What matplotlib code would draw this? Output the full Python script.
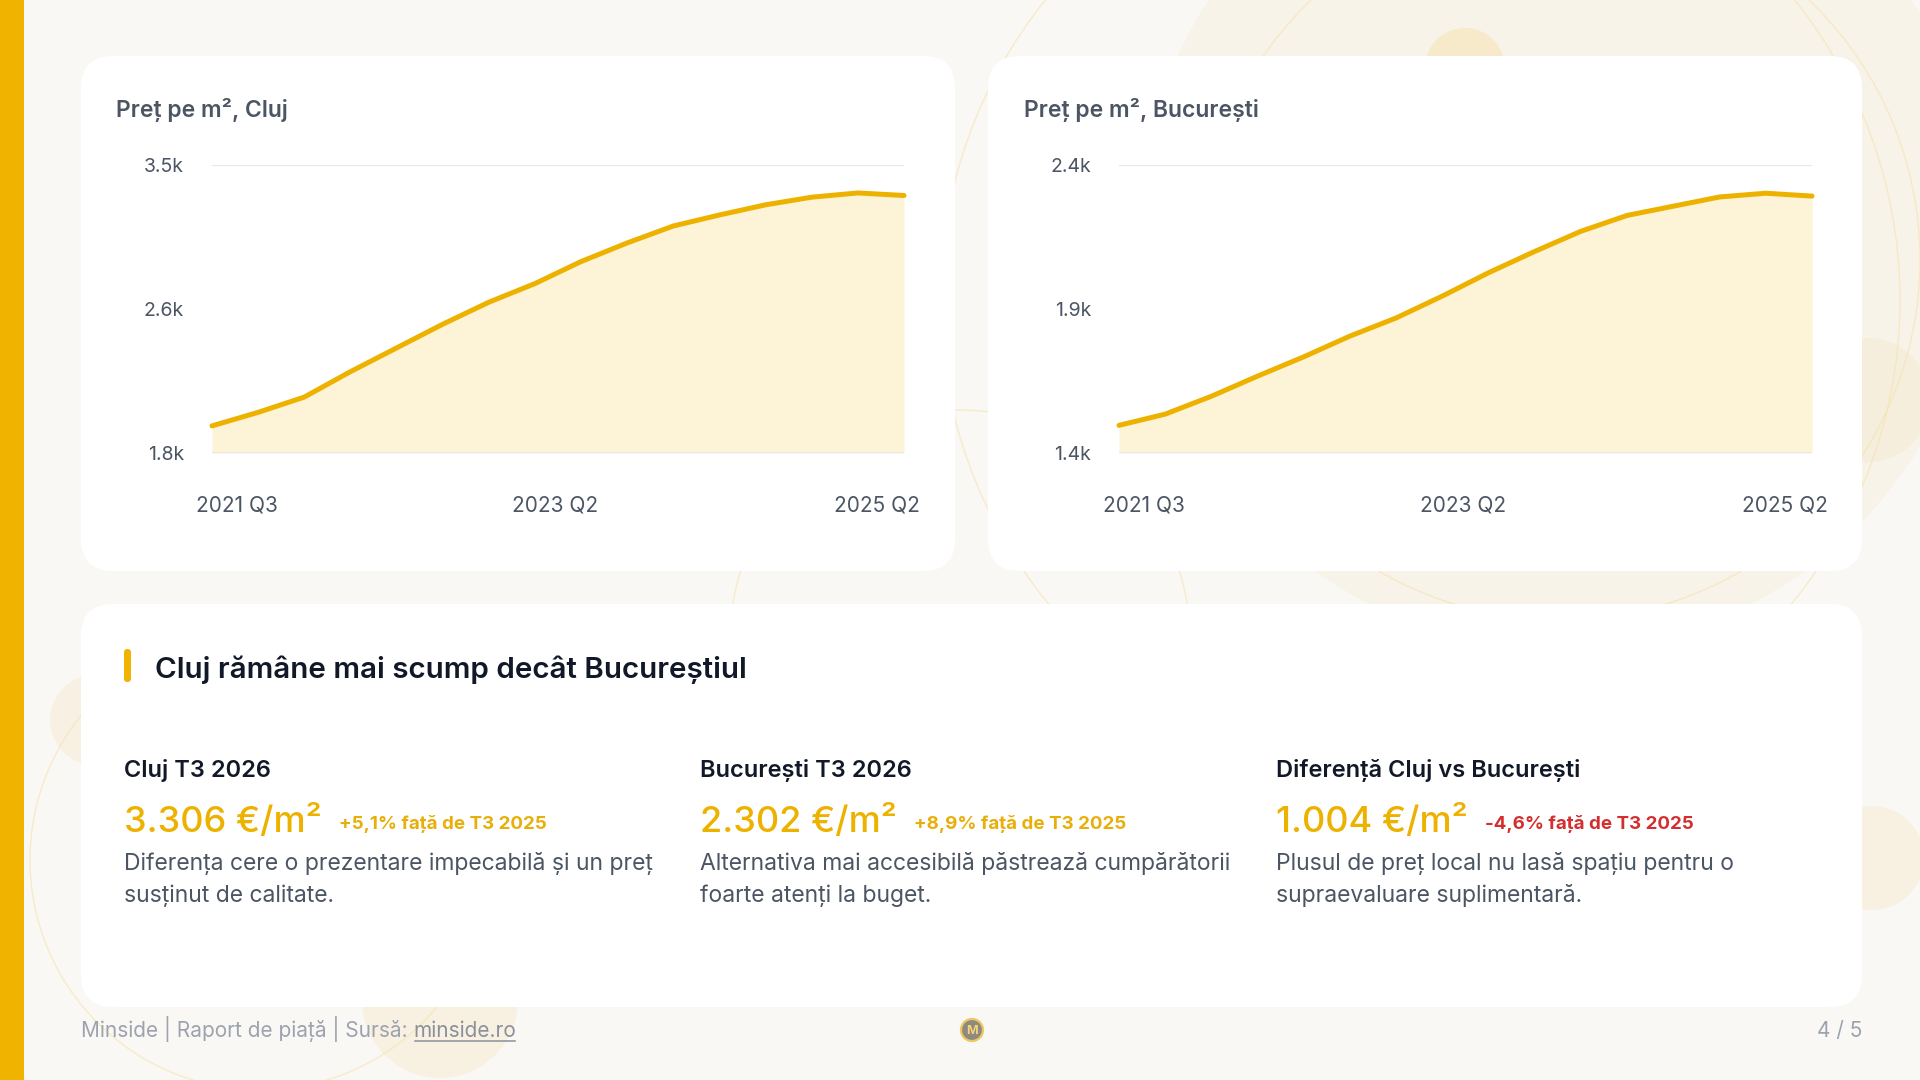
import matplotlib
matplotlib.use("Agg")
import matplotlib.pyplot as plt
from matplotlib.patches import FancyBboxPatch, Circle

plt.rcParams['font.family'] = ['Inter', 'DejaVu Sans']

# ---------------------------------------------------------
# Date
# ---------------------------------------------------------
quarters = ["2021 Q3", "2021 Q4", "2022 Q1", "2022 Q2", "2022 Q3", "2022 Q4",
            "2023 Q1", "2023 Q2", "2023 Q3", "2023 Q4", "2024 Q1", "2024 Q2",
            "2024 Q3", "2024 Q4", "2025 Q1", "2025 Q2"]
cluj_prices = [1960, 2040, 2130, 2280, 2420, 2560, 2690, 2800,
               2930, 3040, 3140, 3205, 3265, 3310, 3335, 3320]
buc_prices = [1496, 1535, 1597, 1667, 1734, 1806, 1869, 1945,
              2026, 2100, 2170, 2225, 2257, 2289, 2302, 2292]

cluj_ticks = [1800, 2650, 3500]
cluj_tick_labels = ["1.8k", "2.6k", "3.5k"]
buc_ticks = [1400, 1900, 2400]
buc_tick_labels = ["1.4k", "1.9k", "2.4k"]
axis_labels = ["2021 Q3", "2023 Q2", "2025 Q2"]

chart_titles = ["Preț pe m², Cluj", "Preț pe m², București"]
section_title = "Cluj rămâne mai scump decât Bucureștiul"

kpi_titles = ["Cluj T3 2026", "București T3 2026", "Diferență Cluj vs București"]
kpi_values = ["3.306 €/m²", "2.302 €/m²", "1.004 €/m²"]
kpi_changes = ["+5,1% față de T3 2025", "+8,9% față de T3 2025", "-4,6% față de T3 2025"]
kpi_negative = [False, False, True]
kpi_notes = [
    ["Diferența cere o prezentare impecabilă și un preț", "susținut de calitate."],
    ["Alternativa mai accesibilă păstrează cumpărătorii", "foarte atenți la buget."],
    ["Plusul de preț local nu lasă spațiu pentru o", "supraevaluare suplimentară."],
]

footer_left = "Minside | Raport de piață | Sursă: "
footer_link = "minside.ro"
page_label = "4 / 5"

# ---------------------------------------------------------
# Culori
# ---------------------------------------------------------
BG = "#FAF8F4"
GOLD = "#EDB200"
FILL = "#FDF3D6"
GRID = "#E5E7EB"
TITLE_GRAY = "#4B5563"
AXIS_TXT = "#4B5563"
DARK = "#111827"
POS = "#E8AE0A"
NEG = "#D32F2F"
FOOT = "#9CA3AF"

W, H = 1920, 1080
fig = plt.figure(figsize=(19.2, 10.8), dpi=100)
fig.patch.set_facecolor(BG)

bg = fig.add_axes([0, 0, 1, 1])
bg.set_xlim(0, W)
bg.set_ylim(H, 0)
bg.axis('off')

# decor de fundal
for cx, cy, r, col in [(1560, 230, 420, "#F8F3E9"), (1465, 68, 40, "#F7EACB"),
                       (1868, 400, 62, "#F6EEDC"), (1872, 858, 52, "#F8F0E0"),
                       (95, 720, 45, "#F8F1E3"), (440, 1000, 78, "#F8F1E1")]:
    bg.add_patch(Circle((cx, cy), r, fc=col, ec='none', zorder=0))
for cx, cy, r in [(1560, 260, 360), (1420, 300, 480), (260, 860, 230), (960, 640, 230)]:
    bg.add_patch(Circle((cx, cy), r, fc='none', ec="#F5E2AE", lw=1.0, alpha=0.6, zorder=0.5))

# bara laterală
bg.add_patch(plt.Rectangle((0, 0), 24, H, fc="#F0B400", ec='none', zorder=1))


def card(x0, y0, x1, y1):
    bg.add_patch(FancyBboxPatch((x0, y0), x1 - x0, y1 - y0,
                                boxstyle="round,pad=0,rounding_size=32",
                                fc='white', ec='none', zorder=2))


card(81, 56, 955, 571)
card(988, 56, 1862, 571)
card(81, 604, 1862, 1007)


def draw_chart(rect, prices, ticks, tick_labels):
    x0, y0, x1, y1 = rect
    ax = fig.add_axes([x0 / W, 1 - y1 / H, (x1 - x0) / W, (y1 - y0) / H])
    ax.patch.set_alpha(0)
    xs = range(len(prices))
    ax.fill_between(xs, prices, ticks[0], color=FILL, lw=0, zorder=1)
    ax.plot(xs, prices, color=GOLD, lw=3.6, solid_capstyle='round',
            solid_joinstyle='round', clip_on=False, zorder=3)
    ax.set_xlim(0, len(prices) - 1)
    ax.set_ylim(ticks[0], ticks[-1])
    for v in (ticks[0], ticks[-1]):
        ax.axhline(v, color=GRID, lw=1.5, zorder=2)
    ax.set_yticks(ticks)
    ax.set_yticklabels(tick_labels)
    ax.tick_params(axis='y', length=0, pad=20, labelsize=14, labelcolor=AXIS_TXT)
    ax.set_xticks([])
    for s in ax.spines.values():
        s.set_visible(False)
    for frac, ha, lab in zip([-0.023, 0.496, 1.023], ['left', 'center', 'right'], axis_labels):
        ax.text(frac, -0.184, lab, transform=ax.transAxes, ha=ha, va='center',
                fontsize=15, color=AXIS_TXT)
    return ax


bg.text(116, 117, chart_titles[0], fontsize=16.5, fontweight='semibold', color=TITLE_GRAY,
        va='baseline', zorder=5)
bg.text(1024, 117, chart_titles[1], fontsize=16.5, fontweight='semibold', color=TITLE_GRAY,
        va='baseline', zorder=5)
draw_chart((212, 165, 904, 453), cluj_prices, cluj_ticks, cluj_tick_labels)
draw_chart((1119, 165, 1812, 453), buc_prices, buc_ticks, buc_tick_labels)

# ---------------------------------------------------------
# Card de sinteză
# ---------------------------------------------------------
bg.add_patch(FancyBboxPatch((124, 649), 7, 33, boxstyle="round,pad=0,rounding_size=3.5",
                            fc="#F0B400", ec='none', zorder=5))
bg.text(155, 678, section_title, fontsize=21.3, fontweight='semibold', color=DARK,
        va='baseline', zorder=5)

renderer = fig.canvas.get_renderer()
inv = bg.transData.inverted()

for col_x, title, value, change, neg, notes in zip([124, 700, 1276], kpi_titles, kpi_values,
                                                     kpi_changes, kpi_negative, kpi_notes):
    bg.text(col_x, 777, title, fontsize=17, fontweight='semibold', color=DARK,
            va='baseline', zorder=5)
    t = bg.text(col_x, 832, value, fontsize=26, fontweight='medium', color=GOLD,
                va='baseline', zorder=5)
    bb = t.get_window_extent(renderer=renderer)
    x_end = inv.transform((bb.x1, bb.y0))[0]
    bg.text(x_end + 17, 829, change, fontsize=13.5, fontweight='bold',
            color=NEG if neg else POS, va='baseline', zorder=5)
    for i, line in enumerate(notes):
        bg.text(col_x, 870 + i * 32, line, fontsize=16.5, color=TITLE_GRAY,
                va='baseline', zorder=5)

# ---------------------------------------------------------
# Subsol
# ---------------------------------------------------------
ft = bg.text(81, 1037, footer_left, fontsize=15, color=FOOT, va='baseline', zorder=5)
bb = ft.get_window_extent(renderer=renderer)
lx = inv.transform((bb.x1, bb.y0))[0]
lt = bg.text(lx, 1037, footer_link, fontsize=15, color="#8A919C", va='baseline', zorder=5)
bb2 = lt.get_window_extent(renderer=renderer)
lx2 = inv.transform((bb2.x1, bb2.y0))[0]
bg.plot([lx + 1, lx2 - 1], [1041, 1041], color="#8A919C", lw=1.1, zorder=5)

bg.add_patch(Circle((972, 1030), 11, fc="#8E8A80", ec="#EBC862", lw=1.6, zorder=5))
bg.text(972, 1031, "M", fontsize=9, fontweight='bold', color="#F2D27A",
        ha='center', va='center', zorder=6)

bg.text(1862, 1037, page_label, fontsize=15, color=FOOT, ha='right', va='baseline', zorder=5)

fig.savefig("out.png", dpi=100, facecolor=BG)
